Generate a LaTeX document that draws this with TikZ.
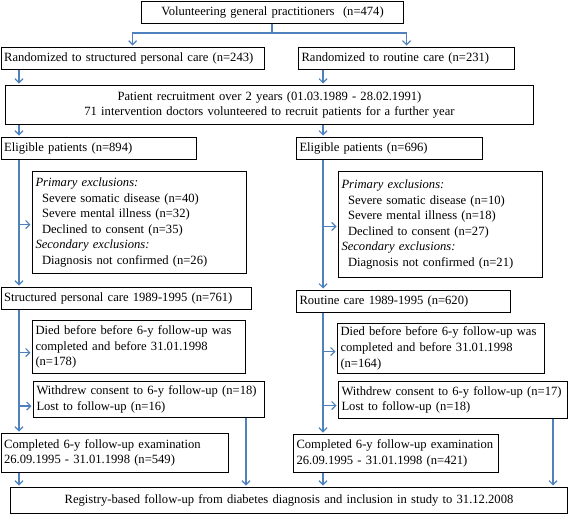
\documentclass[tikz,border=0pt]{standalone}
\usepackage{fontspec}
\setmainfont{Liberation Serif}
\usetikzlibrary{arrows.meta,calc}
\definecolor{conn}{HTML}{4F81BD}
\begin{document}
\begin{tikzpicture}[x=1pt,y=-1pt,
  box/.style={draw=black, line width=1pt, anchor=north west, inner xsep=3pt, inner ysep=0pt,
    align=left, font=\fontsize{12.6}{15.6}\selectfont},
  arr/.style={draw=conn, line width=1.4pt, -{Straight Barb[length=4pt,width=8pt,line width=1.2pt]}, shorten >=1.5pt},
  ln/.style={draw=conn, line width=1.4pt}]
\useasboundingbox (0,0) rectangle (568,514);
\coordinate (colL) at (19,0);
\coordinate (colR) at (323,0);
\coordinate (colW1) at (246,0);
\coordinate (colW2) at (553,0);
\coordinate (split) at (272,33);
% boxes
\node[box, text width=256pt, minimum height=21.5pt, align=center] (top) at (141,1) {Volunteering general practitioners\ \ (n=474)};
\node[box, text width=257pt, minimum height=21.5pt] (rl) at (0.6,47) {Randomized to structured personal care (n=243)};
\node[box, text width=210pt, minimum height=21.5pt] (rr) at (298,47) {Randomized to routine care (n=231)};
\node[box, text width=522pt, minimum height=39pt, align=center, font=\fontsize{12.6}{14.5}\selectfont] (pr) at (5,85) {Patient recruitment over 2 years (01.03.1989 - 28.02.1991)\\71 intervention doctors volunteered to recruit patients for a further year};
\node[box, text width=189pt, minimum height=21.5pt] (el1) at (0.6,137) {Eligible patients (n=894)};
\node[box, text width=180pt, minimum height=21.5pt] (el2) at (296,137) {Eligible patients (n=696)};
\node[box, text width=208pt, minimum height=102pt] (ex1) at (32,171) {\textit{Primary exclusions:}\\\hspace*{6.5pt}Severe somatic disease (n=40)\\\hspace*{6.5pt}Severe mental illness (n=32)\\\hspace*{6.5pt}Declined to consent (n=35)\\\textit{Secondary exclusions:}\\\hspace*{6.5pt}Diagnosis not confirmed (n=26)};
\node[box, text width=198pt, minimum height=106pt] (ex2) at (338,171) {\textit{Primary exclusions:}\\\hspace*{6.5pt}Severe somatic disease (n=10)\\\hspace*{6.5pt}Severe mental illness (n=18)\\\hspace*{6.5pt}Declined to consent (n=27)\\\textit{Secondary exclusions:}\\\hspace*{6.5pt}Diagnosis not confirmed (n=21)};
\node[box, text width=244pt, minimum height=21.5pt] (sp1) at (0.6,287) {Structured personal care 1989-1995 (n=761)};
\node[box, text width=208pt, minimum height=22pt] (rc2) at (296,290) {Routine care 1989-1995 (n=620)};
\node[box, text width=207pt, minimum height=53pt] (d1) at (32,320) {Died before before 6-y follow-up was\\completed and before 31.01.1998\\(n=178)};
\node[box, text width=201pt, minimum height=50pt] (d2) at (337,323) {Died before before 6-y follow-up was\\completed and before 31.01.1998\\(n=164)};
\node[box, text width=225pt, minimum height=36pt] (w1) at (33,381) {Withdrew consent to 6-y follow-up (n=18)\\Lost to follow-up (n=16)};
\node[box, text width=223pt, minimum height=37pt] (w2) at (338,381) {Withdrew consent to 6-y follow-up (n=17)\\Lost to follow-up (n=18)};
\node[box, text width=221pt, minimum height=39pt] (c1) at (0.6,433) {Completed 6-y follow-up examination\\26.09.1995 - 31.01.1998 (n=549)};
\node[box, text width=199pt, minimum height=38pt] (c2) at (293,434) {Completed 6-y follow-up examination\\26.09.1995 - 31.01.1998 (n=421)};
\node[box, text width=551pt, minimum height=26pt, align=center] (reg) at (10,487) {Registry-based follow-up from diabetes diagnosis and inclusion in study to 31.12.2008};
% connectors
\draw[ln] (top.south -| split) -- (split);
\draw[arr] (split) -| (rl.north);
\draw[arr] (split) -| (rr.north);
\draw[arr] (rl.south -| colL) -- (pr.north -| colL);
\draw[arr] (rr.south -| colR) -- (pr.north -| colR);
\draw[arr] (pr.south -| colL) -- (el1.north -| colL);
\draw[arr] (pr.south -| colR) -- (el2.north -| colR);
\draw[arr] (el1.south -| colL) -- (sp1.north -| colL);
\draw[arr] (el2.south -| colR) -- (rc2.north -| colR);
\draw[arr] ([yshift=-2pt]ex1.west -| colL) -- ([yshift=-2pt]ex1.west);
\draw[arr] ([yshift=-2pt]ex2.west -| colR) -- ([yshift=-2pt]ex2.west);
\draw[arr] (sp1.south -| colL) -- (c1.north -| colL);
\draw[arr] (rc2.south -| colR) -- (c2.north -| colR);
\draw[arr] ([yshift=-5.5pt]d1.west -| colL) -- ([yshift=-5.5pt]d1.west);
\draw[arr] ([yshift=-3pt]d2.west -| colR) -- ([yshift=-3pt]d2.west);
\draw[arr] ([yshift=-6.5pt]w1.west -| colL) -- ([yshift=-6.5pt]w1.west);
\draw[arr] ([yshift=-5.5pt]w2.west -| colR) -- ([yshift=-5.5pt]w2.west);
\draw[arr] (c1.south -| colL) -- (reg.north -| colL);
\draw[arr] (c2.south -| colR) -- (reg.north -| colR);
\draw[arr] (w1.south -| colW1) -- (reg.north -| colW1);
\draw[arr] (w2.south -| colW2) -- (reg.north -| colW2);
\end{tikzpicture}
\end{document}
